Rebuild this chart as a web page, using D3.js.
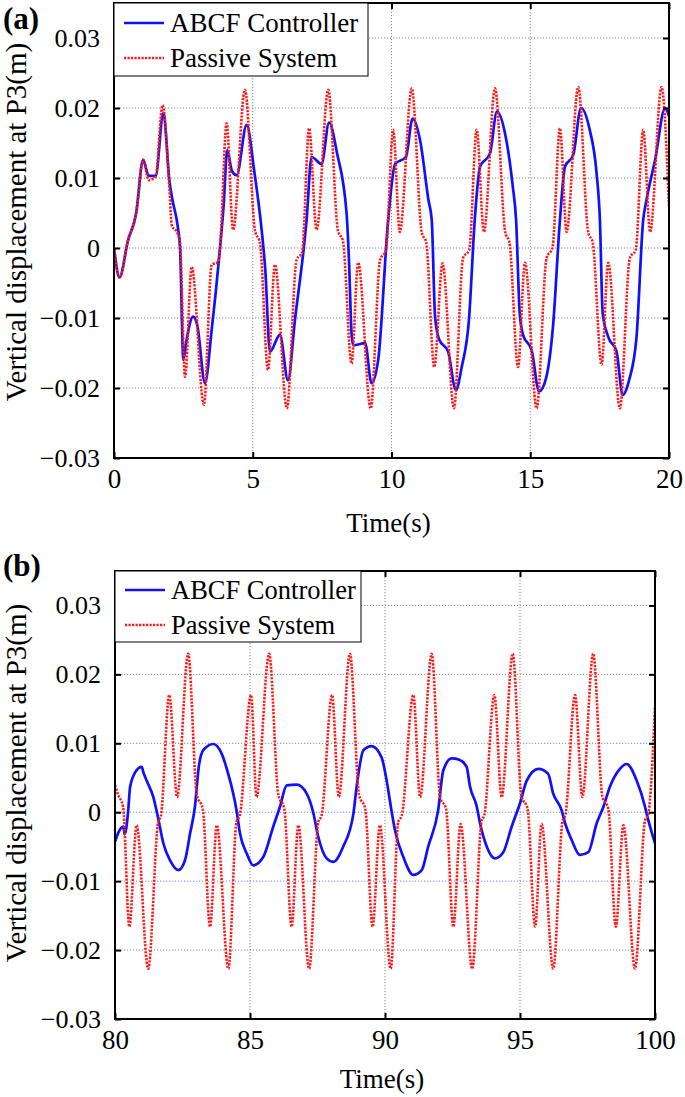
<!DOCTYPE html>
<html><head><meta charset="utf-8">
<script src="https://cdn.jsdelivr.net/npm/d3@7/dist/d3.min.js"></script>
<style>
html,body{margin:0;padding:0;background:#fff;}
svg{display:block;}
text{font-family:"Liberation Serif","Times New Roman",serif;fill:#000;}
</style></head>
<body>
<svg id="chart" width="685" height="1097"></svg>
<script>
// ---------- DATA ----------
const seriesNames = ["ABCF Controller", "Passive System"];
const yTicks = [-0.03, -0.02, -0.01, 0, 0.01, 0.02, 0.03];
const xTicksA = [0, 5, 10, 15, 20];
const xTicksB = [80, 85, 90, 95, 100];

// Panel (a): [time, displacement]
const abcfA = [
 [0,0],[0.2,-0.0042],[0.5,0.001],[0.8,0.005],[1.05,0.0126],[1.25,0.0103],[1.5,0.0103],[1.78,0.0193],
 [2.0,0.0095],[2.1,0.007],[2.3,0.003],[2.38,0],[2.5,-0.016],[2.6,-0.0135],[2.85,-0.0098],[3.0,-0.011],
 [3.28,-0.0193],[3.52,-0.0117],[3.82,0],[3.95,0.006],[4.08,0.014],[4.25,0.011],[4.42,0.0104],[4.78,0.0176],
 [5.05,0.0111],[5.32,0.0026],[5.45,-0.003],[5.62,-0.0148],[5.98,-0.0124],[6.27,-0.0189],[6.52,-0.0103],
 [6.94,0.004],[7.12,0.013],[7.48,0.012],[7.75,0.0179],[8.04,0.0135],[8.38,0.005],[8.47,-0.002],[8.56,-0.0122],
 [8.62,-0.0139],[9.05,-0.0136],[9.28,-0.0193],[9.52,-0.016],[9.88,0.004],[10.13,0.012],[10.52,0.013],
 [10.76,0.0185],[11.03,0.0154],[11.33,0.0069],[11.45,0.004],[11.57,-0.0098],[11.71,-0.013],[12.04,-0.0148],
 [12.32,-0.0203],[12.53,-0.017],[12.79,-0.0103],[13.0,0.004],[13.19,0.0116],[13.55,0.0135],[13.8,0.0195],
 [14.09,0.0164],[14.37,0.0088],[14.49,0.004],[14.62,-0.0093],[14.74,-0.0124],[15.05,-0.0146],[15.32,-0.0205],
 [15.57,-0.0186],[15.82,-0.0112],[16.07,0.004],[16.25,0.0116],[16.55,0.0133],[16.83,0.02],[17.13,0.0171],
 [17.39,0.0107],[17.51,0.004],[17.61,-0.0093],[17.81,-0.0127],[18.11,-0.0148],[18.33,-0.021],[18.56,-0.0189],
 [18.83,-0.0127],[19.07,0.004],[19.19,0.0069],[19.5,0.0126],[19.86,0.02],[20,0.0188]
];
const passiveA = [
 [0,0],[0.2,-0.0042],[0.5,0.001],[0.8,0.005],[1.05,0.0126],[1.25,0.0097],[1.5,0.0102],[1.75,0.0204],
 [2.0,0.0083],[2.08,0.0033],[2.3,0.002],[2.38,0.0007],[2.56,-0.0184],[2.8,-0.0027],[3.24,-0.0224],
 [3.52,-0.0024],[3.75,-0.002],[3.82,0],[4.06,0.0178],[4.29,0.0026],[4.72,0.0226],[5.08,0.0025],[5.26,0.0007],
 [5.55,-0.0174],[5.8,-0.0024],[6.23,-0.0229],[6.58,-0.0017],[6.78,-0.0006],[7.03,0.0171],[7.3,0.0026],
 [7.72,0.0226],[8.07,0.0025],[8.25,0.001],[8.56,-0.0165],[8.8,-0.0021],[9.25,-0.0229],[9.59,-0.0017],
 [9.8,-0.0003],[10.06,0.0169],[10.3,0.0023],[10.73,0.0228],[11.09,0.0022],[11.25,0.0008],[11.54,-0.017],
 [11.84,-0.0022],[12.25,-0.0229],[12.58,-0.0014],[12.8,-0.0003],[13.07,0.0169],[13.33,0.0023],[13.73,0.0228],
 [14.1,0.0022],[14.25,0.0008],[14.56,-0.017],[14.81,-0.0021],[15.23,-0.0229],[15.59,-0.0014],[15.8,0],
 [16.07,0.0171],[16.31,0.0023],[16.73,0.023],[17.09,0.0022],[17.25,0.0008],[17.57,-0.0167],[17.81,-0.0021],
 [18.23,-0.0229],[18.59,-0.0014],[18.8,-0.0003],[19.07,0.0169],[19.32,0.0023],[19.73,0.023],[20,0.0059]
];

// Panel (b)
const abcfB = [
 [80,-0.0043],[80.12,-0.003],[80.31,-0.0021],[80.36,-0.0032],[80.49,0.0003],[80.56,0.0037],[80.8,0.0061],
 [80.99,0.0066],[81.05,0.0058],[81.17,0.0046],[81.42,0.0022],[81.6,-0.0009],[81.79,-0.0045],[82.04,-0.007],
 [82.34,-0.0084],[82.59,-0.007],[82.78,-0.0031],[82.96,0.0008],[83.1,0.0065],[83.27,0.009],[83.64,0.0099],
 [83.95,0.0085],[84.19,0.0056],[84.5,0.0003],[84.63,-0.0031],[84.88,-0.006],[85.12,-0.0077],[85.49,-0.0065],
 [85.86,-0.0021],[86.11,0.0008],[86.36,0.0039],[86.73,0.004],[87.1,0.0027],[87.34,0],[87.53,-0.0036],
 [87.84,-0.0067],[88.09,-0.0072],[88.45,-0.005],[88.83,-0.0002],[88.95,0.0037],[89.2,0.009],[89.5,0.0096],
 [89.87,0.008],[90.06,0.0046],[90.25,0],[90.37,-0.0026],[90.68,-0.0065],[91.05,-0.0091],[91.36,-0.0084],
 [91.6,-0.005],[91.97,0.0003],[92.16,0.0061],[92.47,0.0078],[92.75,0.0076],[93.02,0.0066],[93.15,0.0037],
 [93.4,0.0008],[93.52,-0.0016],[93.77,-0.005],[94.07,-0.0067],[94.38,-0.0058],[94.69,-0.0021],[95.0,0.0013],
 [95.25,0.0046],[95.68,0.0063],[96.04,0.0056],[96.23,0.0027],[96.54,0.0003],[96.67,-0.0016],[96.91,-0.004],
 [97.22,-0.0062],[97.53,-0.0058],[97.84,-0.0016],[98.09,0.0008],[98.33,0.0037],[98.7,0.0063],[98.95,0.007],
 [99.32,0.0046],[99.63,0.0008],[99.69,-0.0002],[100,-0.0045]
];
const passiveB = [
 [80,0.0039],[80.12,0.0025],[80.3,0.0008],[80.53,-0.0166],[80.8,-0.0019],[81.23,-0.0227],[81.6,-0.0014],
 [81.7,-0.0005],[82.01,0.017],[82.3,0.0022],[82.71,0.023],[83.03,0.0025],[83.25,0.0005],[83.52,-0.0166],
 [83.77,-0.0019],[84.2,-0.0227],[84.5,-0.0014],[84.62,-0.0005],[85.04,0.017],[85.24,0.0022],[85.71,0.023],
 [86.05,0.0025],[86.27,0.0005],[86.54,-0.0166],[86.79,-0.0019],[87.19,-0.0227],[87.53,-0.0014],[87.65,-0.0005],
 [88.04,0.017],[88.29,0.0022],[88.7,0.023],[89.04,0.0025],[89.27,0.0005],[89.54,-0.0166],[89.81,-0.0019],
 [90.21,-0.0227],[90.49,-0.0014],[90.62,-0.0005],[91.05,0.017],[91.3,0.0022],[91.73,0.023],[92.04,0.0022],
 [92.26,0.0005],[92.53,-0.0166],[92.8,-0.0017],[93.23,-0.0227],[93.58,-0.0012],[93.68,-0.0004],[94.05,0.017],
 [94.32,0.0022],[94.73,0.023],[95.05,0.0024],[95.28,0.0005],[95.56,-0.0166],[95.8,-0.0017],[96.23,-0.0227],
 [96.58,-0.0012],[96.68,-0.0004],[97.04,0.017],[97.31,0.0022],[97.71,0.023],[98.05,0.0023],[98.27,0.0005],
 [98.55,-0.0166],[98.83,-0.0019],[99.26,-0.0227],[99.63,-0.0012],[99.75,-0.0003],[100,0.0153]
];

// ---------- DRAW ----------
const svg = d3.select("#chart");
const fmtY = d => d === 0 ? "0" : d3.format(".2f")(d);

function panel(cfg) {
  const {left, right, top, bottom, xDomain, xTicks, abcf, passive, label, legend, xTitleY, yTitleY, id} = cfg;
  const x = d3.scaleLinear().domain(xDomain).range([left, right]);
  const y = d3.scaleLinear().domain([-0.03, 0.035]).range([bottom, top]);
  const g = svg.append("g");

  g.append("clipPath").attr("id", id).append("rect")
    .attr("x", left).attr("y", top).attr("width", right - left).attr("height", bottom - top);

  // grid
  const gridX = xTicks.filter(t => t !== xDomain[0] && t !== xDomain[1]);
  const gridY = yTicks.filter(t => t !== -0.03);
  g.append("g").selectAll("line").data(gridX).join("line")
    .attr("x1", d => x(d)).attr("x2", d => x(d)).attr("y1", top).attr("y2", bottom)
    .attr("stroke", "#8a8a8a").attr("stroke-width", 1).attr("stroke-dasharray", "1.2,1.8");
  g.append("g").selectAll("line").data(gridY).join("line")
    .attr("x1", left).attr("x2", right).attr("y1", d => y(d)).attr("y2", d => y(d))
    .attr("stroke", (d) => (d === 0 || d === -0.01) ? "#7f86c0" : "#8a8a8a")
    .attr("stroke-width", 1).attr("stroke-dasharray", "1.2,1.8");

  // lines
  const line = d3.line().x(d => x(d[0])).y(d => y(d[1])).curve(d3.curveMonotoneX);
  const lg = g.append("g").attr("clip-path", `url(#${id})`);
  lg.append("path").datum(abcf).attr("d", line).attr("fill", "none")
    .attr("stroke", "#1010ff").attr("stroke-width", 2.7).attr("stroke-linejoin", "round");
  lg.append("path").datum(passive).attr("d", line).attr("fill", "none")
    .attr("stroke", "#ff1a1a").attr("stroke-width", 2.6).attr("stroke-dasharray", "2.2,1.3");

  // axes (ticks inward)
  const tl = 6;
  const axB = d3.axisBottom(x).tickValues(xTicks).tickSize(-tl).tickPadding(tl + 8).tickFormat(d3.format("d"));
  const axT = d3.axisTop(x).tickValues(xTicks).tickSize(-tl).tickFormat("");
  const axL = d3.axisLeft(y).tickValues(yTicks).tickSize(-tl).tickPadding(tl + 8).tickFormat(fmtY);
  const axR = d3.axisRight(y).tickValues(yTicks).tickSize(-tl).tickFormat("");
  const gb = g.append("g").attr("transform", `translate(0,${bottom})`).call(axB);
  const gt = g.append("g").attr("transform", `translate(0,${top})`).call(axT);
  const gl = g.append("g").attr("transform", `translate(${left},0)`).call(axL);
  const gr = g.append("g").attr("transform", `translate(${right},0)`).call(axR);
  [gb, gt, gl, gr].forEach(a => {
    a.select(".domain").remove();
    a.selectAll(".tick line").attr("stroke", "#000").attr("stroke-width", 2);
  });
  gb.selectAll(".tick text").style("font-family", "Liberation Serif").attr("font-size", 27).attr("dy", "0.6em");
  gl.selectAll(".tick text").style("font-family", "Liberation Serif").attr("font-size", 26);

  // frame
  g.append("rect").attr("x", left).attr("y", top).attr("width", right - left).attr("height", bottom - top)
    .attr("fill", "none").attr("stroke", "#000").attr("stroke-width", 2);

  // legend
  const L = legend;
  g.append("rect").attr("x", left).attr("y", top).attr("width", L.w).attr("height", L.h)
    .attr("fill", "#fff").attr("stroke", "#000").attr("stroke-width", 1);
  g.append("line").attr("x1", left + 10).attr("x2", left + 50).attr("y1", top + L.r1).attr("y2", top + L.r1)
    .attr("stroke", "#1010ff").attr("stroke-width", 2.7);
  g.append("line").attr("x1", left + 10).attr("x2", left + 50).attr("y1", top + L.r2).attr("y2", top + L.r2)
    .attr("stroke", "#ff1a1a").attr("stroke-width", 2.6).attr("stroke-dasharray", "2.2,1.3");
  g.append("text").attr("x", left + 56).attr("y", top + L.r1 + 9).attr("font-size", L.fs).text(seriesNames[0]);
  g.append("text").attr("x", left + 56).attr("y", top + L.r2 + 9).attr("font-size", L.fs).text(seriesNames[1]);

  // titles
  g.append("text").attr("x", (left + right) / 2 - 3).attr("y", xTitleY).attr("text-anchor", "middle")
    .attr("font-size", 27).text("Time(s)");
  g.append("text").attr("transform", `translate(26,${yTitleY}) rotate(-90)`).attr("text-anchor", "middle")
    .attr("font-size", 29).text("Vertical displacement at P3(m)");
  g.append("text").attr("x", 3).attr("y", label.y).attr("font-size", 31).attr("font-weight", "bold").text(label.t);
}

panel({id: "clipA", left: 114, right: 669, top: 3, bottom: 458, xDomain: [0, 20], xTicks: xTicksA,
  abcf: abcfA, passive: passiveA, label: {t: "(a)", y: 29},
  legend: {w: 254, h: 73, r1: 20, r2: 55, fs: 27}, xTitleY: 532, yTitleY: 222});
panel({id: "clipB", left: 115, right: 655, top: 571, bottom: 1019, xDomain: [80, 100], xTicks: xTicksB,
  abcf: abcfB, passive: passiveB, label: {t: "(b)", y: 576},
  legend: {w: 246, h: 71, r1: 19, r2: 54, fs: 26.5}, xTitleY: 1088, yTitleY: 783});
</script>
</body></html>
